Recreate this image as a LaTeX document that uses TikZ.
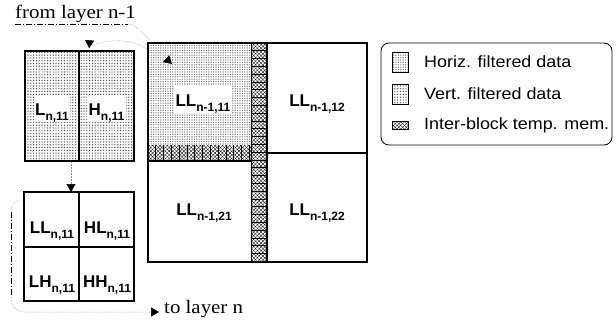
\documentclass[tikz,border=0pt]{standalone}
\usepackage{fontspec}
\setmainfont{Liberation Serif}
\setsansfont{Liberation Sans}
\newfontfamily\capfont[FakeStretch=1.1]{Liberation Serif}
\newfontfamily\legfont[FakeStretch=1.1]{Liberation Sans}
\usetikzlibrary{patterns.meta,arrows.meta}

% block label: bold sans letters with a subscript index
\newcommand{\blk}[2]{{\sffamily\bfseries\fontsize{17}{17}\selectfont #1\raisebox{-5pt}{\fontsize{12}{12}\selectfont #2}}}

\tikzset{
  outline/.style={line width=1.8pt},
  divider/.style={line width=1.5pt},
  lab/.style={fill=white, inner xsep=1.5pt, inner ysep=0pt, text height=20pt, text depth=7pt, anchor=base},
  conn/.style={black!45, line width=0.5pt, densely dotted},
  dashdotline/.style={black, line width=0.7pt, dash pattern=on 6pt off 2pt on 1pt off 2pt},
  tip/.style={-{Triangle[length=8pt,width=9pt,color=black]}},
  hfilt/.style={pattern={Dots[distance=2.4pt,radius=0.6pt]}, pattern color=black!65},
  vfilt/.style={pattern={Dots[distance=2.8pt,radius=0.7pt]}, pattern color=black!70},
  xa/.style={pattern={Lines[angle=45,distance=2.6pt,line width=0.35pt]}, pattern color=black},
  xb/.style={pattern={Lines[angle=-45,distance=2.6pt,line width=0.35pt]}, pattern color=black},
  captext/.style={anchor=base west, inner sep=0pt, font=\capfont\fontsize{19}{19}\selectfont},
  legtext/.style={anchor=west, inner sep=0pt, font=\legfont\fontsize{16.3}{16.3}\selectfont},
}

\begin{document}
\begin{tikzpicture}[x=1pt,y=-1pt]
\useasboundingbox (0,0) rectangle (616,324);

% ---- L / H block (after horizontal filtering)
\fill[white] (25,51) rectangle (134,161);
\fill[vfilt] (25,51) rectangle (134,161);
\draw[divider] (79,51) -- (79,161);
\draw[outline] (25,51) rectangle (134,161);
\node[lab] (l11) at (52,115) {\blk{L}{n,11}};
\node[lab] (h11) at (106.5,115) {\blk{H}{n,11}};

% ---- LL / HL / LH / HH block
\draw[divider] (79,192) -- (79,301);
\draw[divider] (24,247) -- (134,247);
\draw[outline] (24,192) rectangle (134,301);
\node[lab] (ll) at (52,233) {\blk{LL}{n,11}};
\node[lab] (hl) at (107,233) {\blk{HL}{n,11}};
\node[lab] (lh) at (52,287) {\blk{LH}{n,11}};
\node[lab] (hh) at (107,287) {\blk{HH}{n,11}};

% ---- large LL block of layer n-1
\fill[hfilt] (148,43) rectangle (251,145);
% inter-block temporary memory: column and band
\foreach \s in {xa,xb} {
  \fill[\s] (251,43) rectangle (267,262);
  \fill[\s] (148,145) rectangle (251,161);
}
\foreach \k in {1,...,27}
  \draw[line width=0.8pt] (251,{43+7.8*\k}) -- (267,{43+7.8*\k});
\foreach \k in {1,...,13}
  \draw[line width=0.8pt] ({148+7.8*\k},145) -- ({148+7.8*\k},161);
\draw[line width=0.8pt] (251,43) -- (251,262);
\draw[divider] (267,43) -- (267,262);
\draw[divider] (148,161) -- (251,161);
\draw[divider] (267,153) -- (367,153);
\draw[outline] (148,43) rectangle (367,262);
\node[lab] (q11) at (203,106) {\blk{LL}{n-1,11}};
\node[lab] (q12) at (317,106) {\blk{LL}{n-1,12}};
\node[lab] (q21) at (204,215) {\blk{LL}{n-1,21}};
\node[lab] (q22) at (317,215) {\blk{LL}{n-1,22}};

% ---- legend
\draw[line width=0.8pt, rounded corners=8pt] (381,43) rectangle (612,145);
\fill[white] (392,52) rectangle (408,72);
\fill[hfilt] (392,52) rectangle (408,72);
\draw[line width=0.5pt] (392,52) rectangle (408,72);
\fill[white] (392,84) rectangle (408,104);
\fill[vfilt] (392,84) rectangle (408,104);
\draw[line width=0.5pt] (392,84) rectangle (408,104);
\foreach \s in {xa,xb} \fill[\s] (392,121) rectangle (408,129);
\draw[line width=0.5pt] (392,121) rectangle (408,129);
\node[legtext] (k1) at (424,62) {Horiz. filtered data};
\node[legtext] (k2) at (424,94) {Vert. filtered data};
\node[legtext] (k3) at (424,125) {Inter-block temp. mem.};

% ---- captions
\node[captext] (from) at (15,18.5) {from layer n-1};
\node[captext] (to) at (164,313) {to layer n};

% ---- connectors
\coordinate (srcA) at (15,24);
\coordinate (srcB) at (128,24);
\coordinate (inTip) at (172,64);
\draw[dashdotline] (srcA) -- (srcB);
\draw[conn, tip] (srcB) .. controls (140,24) and (152,46) .. (inTip);

\coordinate (backStart) at (148,50);
\coordinate (upTip) at (85,40);
\draw[conn, tip] (backStart) .. controls (122,32) and (94,46) .. (upTip);

\coordinate (lhBottom) at (71,162);
\coordinate (llTop) at (71,192);
\draw[conn, tip] (lhBottom) -- (llTop);

\coordinate (brStart) at (19,200);
\coordinate (brA) at (11,212);
\coordinate (brB) at (11,297);
\coordinate (outTip) at (159,312);
\draw[conn, tip] (brStart) .. controls (13,203) and (11,207) .. (brA) -- (brB)
  .. controls (11,306) and (16,312) .. (26,312) -- (outTip);
\draw[dashdotline] (brA) -- (brB);
\end{tikzpicture}
\end{document}
